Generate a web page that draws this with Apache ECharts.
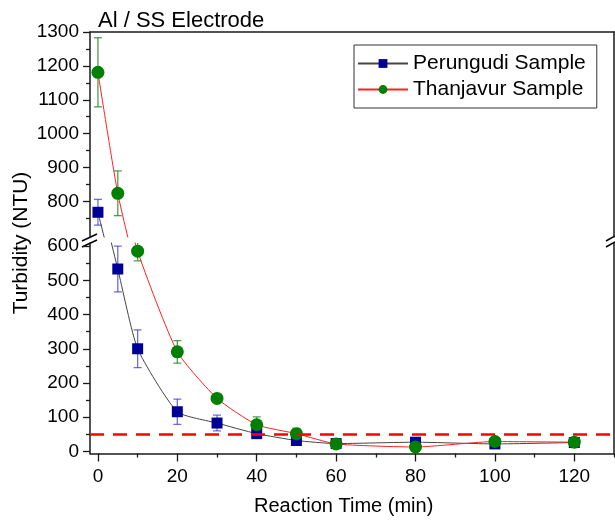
<!DOCTYPE html>
<html>
<head>
<meta charset="utf-8">
<script src="https://cdn.jsdelivr.net/npm/echarts@6/dist/echarts.min.js"></script>
<style>
html, body { margin: 0; padding: 0; background: #fff; }
#chart { width: 615px; height: 523px; }
</style>
</head>
<body>
<div id="chart"></div>
<script>
// reaction time (min)
var times = [0, 5, 10, 20, 30, 40, 50, 60, 80, 100, 120];
var perungudi = [768, 533, 300, 116, 83, 52, 32, 23, 27, 22, 26];
var perungudiErr = [38, 67, 55, 37, 23, 10, 10, 3, 3, 3, 3];
var thanjavur = [1181, 824, 585, 291, 155, 78, 52, 22, 13, 29, 27];
var thanjavurErr = [102, 66, 28, 33, 8, 23, 15, 3, 3, 3, 3];
var xMajor = [0, 20, 40, 60, 80, 100, 120];
var xMinor = [10, 30, 50, 70, 90, 110, 130];
var yLowMajor = [0, 100, 200, 300, 400, 500, 600];
var yLowMinor = [50, 150, 250, 350, 450, 550];
var yHighMajor = [800, 900, 1000, 1100, 1200, 1300];
var yHighMinor = [750, 850, 950, 1050, 1150, 1250];
var limitValue = 50;

var font = 'Liberation Sans, Arial, sans-serif';
var axisColor = '#1a1a1a';
var labelSize = 19;

function pairs(ys) {
    return times.map(function (t, i) { return [t, ys[i]]; });
}
function errData(ys, es) {
    return times.map(function (t, i) { return [t, ys[i] - es[i], ys[i] + es[i]]; });
}
function plain(v) { return String(v); }
function errBar(color) {
    return function (params, api) {
        var lo = api.coord([api.value(0), api.value(1)]);
        var hi = api.coord([api.value(0), api.value(2)]);
        var w = 4;
        var st = { stroke: color, lineWidth: 1.3 };
        return {
            type: 'group',
            children: [
                { type: 'line', shape: { x1: lo[0], y1: lo[1], x2: hi[0], y2: hi[1] }, style: st },
                { type: 'line', shape: { x1: lo[0] - w, y1: lo[1], x2: lo[0] + w, y2: lo[1] }, style: st },
                { type: 'line', shape: { x1: hi[0] - w, y1: hi[1], x2: hi[0] + w, y2: hi[1] }, style: st }
            ]
        };
    };
}

function lineOnly(extra) {
    var o = {
        axisLine: { show: true, onZero: false, lineStyle: { color: axisColor, width: 1.5 } },
        axisTick: { show: false },
        axisLabel: { show: false },
        splitLine: { show: false }
    };
    for (var k in extra) o[k] = extra[k];
    return o;
}
function ticksOnly(extra, vals, len) {
    var o = {
        axisLine: { show: false, onZero: false },
        axisTick: { show: true, customValues: vals, length: len, lineStyle: { color: axisColor, width: 1.3 } },
        axisLabel: { show: false },
        splitLine: { show: false }
    };
    for (var k in extra) o[k] = extra[k];
    return o;
}

var chart = echarts.init(document.getElementById('chart'));
var option = {
    animation: false,
    backgroundColor: '#fff',
    title: {
        text: 'Al / SS Electrode',
        left: 93, top: 5,
        textStyle: { color: '#000', fontSize: 22, fontWeight: 'normal', fontFamily: font }
    },
    legend: {
        data: ['Perungudi Sample', 'Thanjavur Sample'],
        orient: 'vertical',
        left: 354, top: 45,
        padding: [8, 11, 8, 3],
        itemGap: 5,
        itemWidth: 50,
        itemHeight: 11,
        borderColor: '#333',
        borderWidth: 1,
        textStyle: { color: '#000', fontSize: 21, fontFamily: font }
    },
    grid: [
        { left: 90, right: 1, top: 32, height: 205 },
        { left: 90, right: 1, top: 243, bottom: 69.5 }
    ],
    xAxis: [
        lineOnly({ type: 'value', gridIndex: 0, position: 'top', min: -2, max: 130 }),
        {
            type: 'value', gridIndex: 1, position: 'bottom', min: -2, max: 130,
            axisLine: { show: true, onZero: false, lineStyle: { color: axisColor, width: 1.5 } },
            axisTick: { show: true, customValues: xMajor, length: 8, lineStyle: { color: axisColor, width: 1.3 } },
            axisLabel: { customValues: xMajor, formatter: plain, margin: 14, color: '#000', fontSize: labelSize, fontFamily: font },
            splitLine: { show: false }
        },
        ticksOnly({ type: 'value', gridIndex: 1, position: 'bottom', min: -2, max: 130 }, xMinor, 4)
    ],
    yAxis: [
        {
            type: 'value', gridIndex: 0, position: 'left', min: 695, max: 1300,
            axisLine: { show: true, onZero: false, lineStyle: { color: axisColor, width: 1.5 } },
            axisTick: { show: true, customValues: yHighMajor, length: 7, lineStyle: { color: axisColor, width: 1.3 } },
            axisLabel: { customValues: yHighMajor, formatter: plain, margin: 11, color: '#000', fontSize: labelSize, fontFamily: font },
            splitLine: { show: false }
        },
        ticksOnly({ type: 'value', gridIndex: 0, position: 'left', min: 695, max: 1300 }, yHighMinor, 4),
        lineOnly({ type: 'value', gridIndex: 0, position: 'right', min: 695, max: 1300 }),
        {
            type: 'value', gridIndex: 1, position: 'left', min: -6, max: 609,
            axisLine: { show: true, onZero: false, lineStyle: { color: axisColor, width: 1.5 } },
            axisTick: { show: true, customValues: yLowMajor, length: 7, lineStyle: { color: axisColor, width: 1.3 } },
            axisLabel: { customValues: yLowMajor, formatter: plain, margin: 11, color: '#000', fontSize: labelSize, fontFamily: font },
            splitLine: { show: false }
        },
        ticksOnly({ type: 'value', gridIndex: 1, position: 'left', min: -6, max: 609 }, yLowMinor, 4),
        lineOnly({ type: 'value', gridIndex: 1, position: 'right', min: -6, max: 609 })
    ],
    graphic: [
        {
            type: 'text', left: 254, top: 496,
            style: { text: 'Reaction Time (min)', fill: '#000', fontSize: 20, fontFamily: font }
        },
        {
            type: 'text', x: 21, y: 243, rotation: Math.PI / 2,
            style: { text: 'Turbidity (NTU)', fill: '#000', fontSize: 21, fontFamily: font, align: 'center', verticalAlign: 'middle' }
        },
        // axis break marks
        { type: 'line', shape: { x1: 82, y1: 241, x2: 97, y2: 234 }, style: { stroke: '#000', lineWidth: 1.5 } },
        { type: 'line', shape: { x1: 82, y1: 247, x2: 97, y2: 240 }, style: { stroke: '#000', lineWidth: 1.5 } },
        { type: 'line', shape: { x1: 606, y1: 241, x2: 615, y2: 236 }, style: { stroke: '#000', lineWidth: 1.5 } },
        { type: 'line', shape: { x1: 606, y1: 247, x2: 615, y2: 242 }, style: { stroke: '#000', lineWidth: 1.5 } }
    ],
    series: [
        // lower segment
        {
            type: 'custom', xAxisIndex: 1, yAxisIndex: 3, clip: true, z: 2, silent: true,
            renderItem: errBar('rgba(60,60,200,0.75)'),
            encode: { x: 0, y: [1, 2] },
            data: errData(perungudi, perungudiErr)
        },
        {
            type: 'custom', xAxisIndex: 1, yAxisIndex: 3, clip: true, z: 2, silent: true,
            renderItem: errBar('rgba(20,130,20,0.75)'),
            encode: { x: 0, y: [1, 2] },
            data: errData(thanjavur, thanjavurErr)
        },
        {
            name: 'Perungudi Sample', type: 'line', xAxisIndex: 1, yAxisIndex: 3,
            data: pairs(perungudi), smooth: 0.18, clip: true, z: 3,
            symbol: 'rect', symbolSize: 11,
            itemStyle: { color: '#000099' },
            lineStyle: { color: '#444', width: 1 },
            markLine: {
                silent: true, symbol: 'none', label: { show: false },
                lineStyle: { color: '#ff0000', type: [14, 9], width: 2.5 },
                data: [{ yAxis: limitValue }]
            }
        },
        {
            name: 'Thanjavur Sample', type: 'line', xAxisIndex: 1, yAxisIndex: 3,
            data: pairs(thanjavur), smooth: 0.18, clip: true, z: 3,
            symbol: 'circle', symbolSize: 13,
            itemStyle: { color: '#008000' },
            lineStyle: { color: '#ff2020', width: 1 }
        },
        // upper segment
        {
            type: 'custom', xAxisIndex: 0, yAxisIndex: 0, clip: true, z: 2, silent: true,
            renderItem: errBar('rgba(60,60,200,0.75)'),
            encode: { x: 0, y: [1, 2] },
            data: errData(perungudi, perungudiErr)
        },
        {
            type: 'custom', xAxisIndex: 0, yAxisIndex: 0, clip: true, z: 2, silent: true,
            renderItem: errBar('rgba(20,130,20,0.75)'),
            encode: { x: 0, y: [1, 2] },
            data: errData(thanjavur, thanjavurErr)
        },
        {
            name: 'Perungudi Sample', type: 'line', xAxisIndex: 0, yAxisIndex: 0,
            data: pairs(perungudi), smooth: 0.18, clip: true, z: 3,
            symbol: 'rect', symbolSize: 11,
            itemStyle: { color: '#000099' },
            lineStyle: { color: '#444', width: 1 }
        },
        {
            name: 'Thanjavur Sample', type: 'line', xAxisIndex: 0, yAxisIndex: 0,
            data: pairs(thanjavur), smooth: 0.18, clip: true, z: 3,
            symbol: 'circle', symbolSize: 13,
            itemStyle: { color: '#008000' },
            lineStyle: { color: '#ff2020', width: 1 }
        }
    ]
};
chart.setOption(option);
</script>
</body>
</html>
